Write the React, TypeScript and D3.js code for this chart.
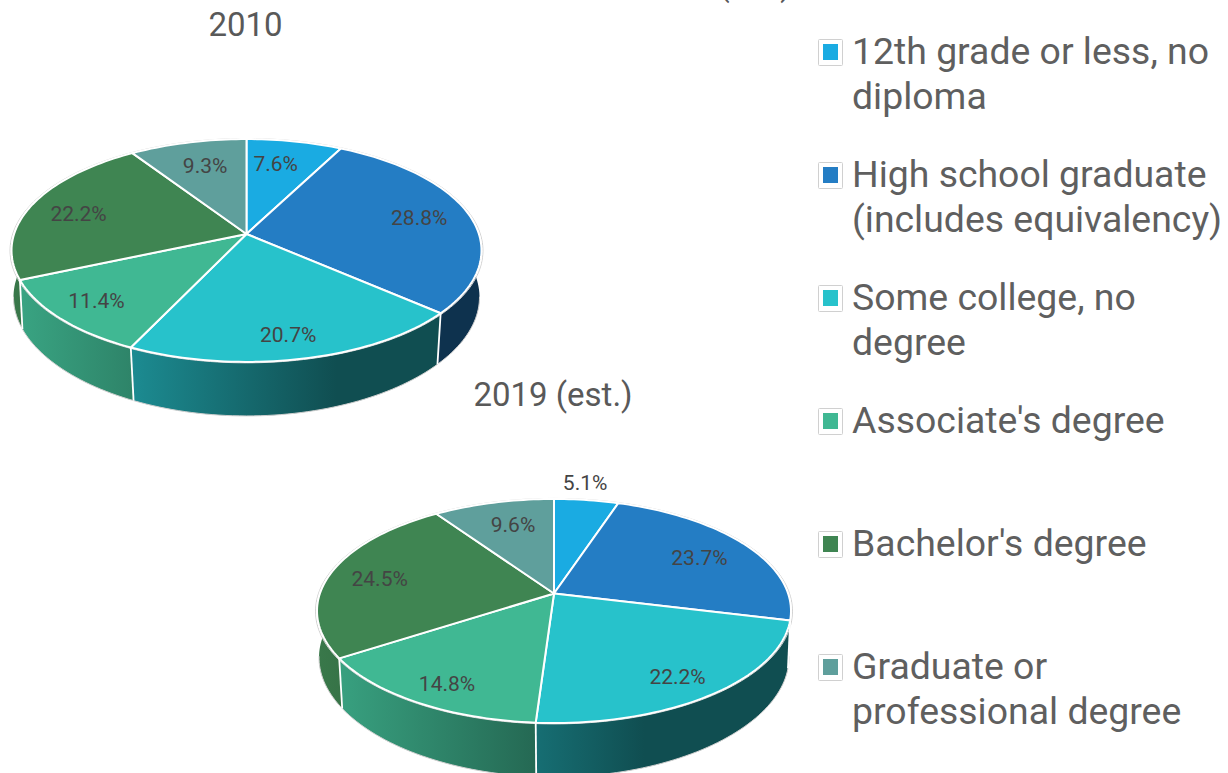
import React from "react";
import * as d3 from "d3";

const categories = [
  ["12th grade or less, no", "diploma"],
  ["High school graduate", "(includes equivalency)"],
  ["Some college, no", "degree"],
  ["Associate's degree"],
  ["Bachelor's degree"],
  ["Graduate or", "professional degree"],
];
const colors = ["#1aabe2", "#247dc4", "#27c2cb", "#40b893", "#3f8552", "#5f9f9c"];
const values2010 = [7.6, 28.8, 20.7, 11.4, 22.2, 9.3];
const values2019 = [5.1, 23.7, 22.2, 14.8, 24.5, 9.6];
const titleClipped = "(est.)";
const title2010 = "2010";
const title2019 = "2019 (est.)";

const FONT = "Roboto, sans-serif";
const tau = Math.PI * 2;

type Geo = { id: string; cx: number; ay: number; A: number; B: number; k: number; depth: number; nudges: number[][] };

const geo2010: Geo = {
  id: "a", cx: 246.5, ay: 234, A: 232.4, B: 109, k: 0.148, depth: 54,
  nudges: [[-8, 1], [5, -1], [2, 11], [-14, 5], [-6, 2], [4, 2]],
};
const geo2019: Geo = {
  id: "b", cx: 554, ay: 593.5, A: 234.1, B: 109.3, k: 0.156, depth: 54,
  nudges: [[6, -38], [0, 2], [9, 10], [-8, 12], [-6, 1], [6, 2]],
};

function top(g: Geo, theta: number, r = 1): [number, number] {
  const u = Math.sin(theta) * r;
  const v = -Math.cos(theta) * r;
  const w = 1 - g.k * v;
  return [g.cx + (g.A * u) / w, g.ay + (g.B * v) / w];
}
function bottom(g: Geo, theta: number, r = 1): [number, number] {
  const [x, y] = top(g, theta, r);
  const yMax = g.ay + g.B / (1 - g.k);
  const c = Math.cos(theta);
  return [g.cx + (x - g.cx) * (0.992 - 0.02 * c * c), y + g.depth - 0.06 * (yMax - y)];
}
function arcPts(fn: (t: number) => [number, number], a0: number, a1: number) {
  const n = Math.max(2, Math.ceil(((a1 - a0) / tau) * 240));
  return d3.range(n + 1).map((i) => fn(a0 + ((a1 - a0) * i) / n));
}
const line = d3.line();
const wallStart = (80 / 360) * tau;
const wallEnd = (280 / 360) * tau;
const depthScale = d3.scaleLinear().domain([-235, 90]).range([0.9, 0.4]).clamp(true);
const shade = (c: string, m: number) => {
  const q = d3.rgb(c);
  return d3.rgb(q.r * m, q.g * m, q.b * m).formatHex();
};

function Pie({ g, values }: { g: Geo; values: number[] }) {
  const normalized = d3.pie<number>().sort(null).startAngle(0).endAngle(tau)(values)
    .map((a) => ({ a0: a.startAngle, a1: a.endAngle }));
  const T = (t: number) => top(g, t);
  const Bt = (t: number) => bottom(g, t);
  return (
    <g>
      <defs>
        {colors.map((c, i) => (
          <linearGradient key={i} id={`w${g.id}${i}`} gradientUnits="userSpaceOnUse" x1={g.cx - 235} x2={g.cx + 90} y1={0} y2={0}>
            <stop offset="0" stopColor={shade(c, depthScale(-235))} />
            <stop offset="1" stopColor={shade(c, depthScale(90))} />
          </linearGradient>
        ))}
      </defs>
      {normalized.map((s, i) => {
        const a0 = Math.max(s.a0, wallStart);
        const a1 = Math.min(s.a1, wallEnd);
        if (a1 <= a0) return null;
        const pts = [...arcPts(T, a0, a1), ...arcPts(Bt, a0, a1).reverse()];
        return <path key={i} d={line(pts) + "Z"} fill={`url(#w${g.id}${i})`} />;
      })}
      <path
        d={line(arcPts(Bt, (98 / 360) * tau, (262 / 360) * tau)) || ""}
        fill="none" stroke="#cfcfcf" strokeWidth={1}
      />
      <path
        d={line(arcPts((t) => top(g, t, 1.006), 0, tau)) + "Z"}
        fill="none" stroke="#cfcfcf" strokeWidth={1}
      />
      {normalized.map((s, i) => {
        if (s.a0 <= wallStart || s.a0 >= wallEnd) return null;
        return <line key={i} x1={T(s.a0)[0]} y1={T(s.a0)[1]} x2={Bt(s.a0)[0]} y2={Bt(s.a0)[1]} stroke="#fff" strokeWidth={1.8} />;
      })}
      {normalized.map((s, i) => {
        const pts = [[g.cx, g.ay] as [number, number], ...arcPts(T, s.a0, s.a1)];
        return <path key={i} d={line(pts) + "Z"} fill={colors[i]} stroke="#fff" strokeWidth={2} strokeLinejoin="round" />;
      })}
      {normalized.map((s, i) => {
        const [x, y] = top(g, (s.a0 + s.a1) / 2, 0.75);
        return (
          <text key={i} x={x + g.nudges[i][0]} y={y + g.nudges[i][1]} dy="0.35em" textAnchor="middle"
            fontFamily={FONT} fontSize={21} fill="#444444">
            {`${values[i].toFixed(1)}%`}
          </text>
        );
      })}
    </g>
  );
}

export default function App() {
  const legendY = d3.scalePoint<number>().domain(d3.range(categories.length)).range([63.5, 678.5]);
  return (
    <svg width={1228} height={773} viewBox="0 0 1228 773"
      style={{ position: "fixed", left: 0, top: 0, display: "block", background: "#fff" }}>
      <text x={755} y={-4} textAnchor="middle" fontFamily={FONT} fontSize={31} fill="#595959">{titleClipped}</text>
      <text x={245.5} y={36} textAnchor="middle" fontFamily={FONT} fontSize={33} fill="#595959">{title2010}</text>
      <text x={553} y={406} textAnchor="middle" fontFamily={FONT} fontSize={33} fill="#595959">{title2019}</text>
      <Pie g={geo2010} values={values2010} />
      <Pie g={geo2019} values={values2019} />
      {categories.map((lines, i) => {
        const y = legendY(i) as number;
        return (
          <g key={i}>
            <rect x={818.5} y={y - 24} width={24} height={26} fill="#fff" stroke="#d0d0d0" strokeWidth={1} rx={1} />
            <rect x={823} y={y - 19.5} width={15} height={16} fill={colors[i]} />
            {lines.map((t, j) => (
              <text key={j} x={852} y={y + j * 45} fontFamily={FONT} fontSize={37.4} fill="#5f5f5f">{t}</text>
            ))}
          </g>
        );
      })}
    </svg>
  );
}
